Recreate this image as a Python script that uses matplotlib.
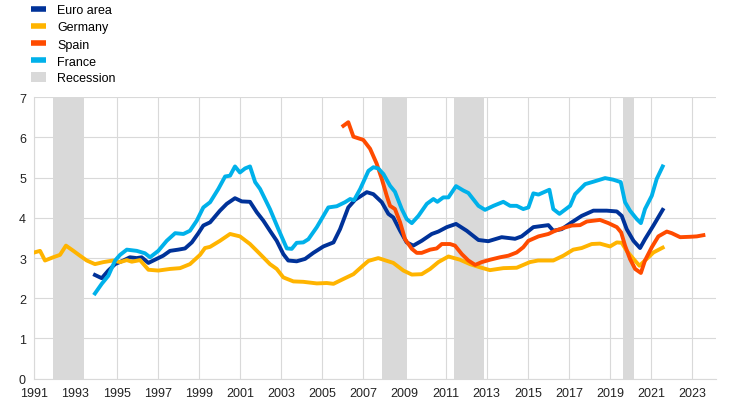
import matplotlib
matplotlib.use("Agg")
import matplotlib.pyplot as plt
from matplotlib.lines import Line2D
from matplotlib.patches import Patch

plt.rcParams['font.family'] = ['Liberation Sans', 'DejaVu Sans']

# Data
ea_t = [1993.95, 1994.28, 1994.6, 1994.93, 1995.33, 1995.65, 1995.98, 1996.22, 1996.55, 1996.95,
        1997.27, 1997.6, 1998.0, 1998.33, 1998.66, 1998.98, 1999.22, 1999.55, 2000.03, 2000.36,
        2000.76, 2001.09, 2001.49, 2001.82, 2002.14, 2002.46, 2002.79, 2003.11, 2003.35, 2003.76,
        2004.17, 2004.57, 2005.06, 2005.55, 2005.87, 2006.27, 2006.6, 2007.17, 2007.49, 2007.9,
        2008.22, 2008.46, 2008.79, 2009.11, 2009.43, 2009.84, 2010.33, 2010.65, 2011.06, 2011.51,
        2012.03, 2012.6, 2013.08, 2013.73, 2014.38, 2014.7, 2014.95, 2015.27, 2016.0, 2016.24,
        2016.65, 2017.14, 2017.62, 2018.19, 2018.84, 2019.33, 2019.57, 2019.81, 2020.14, 2020.46,
        2020.7, 2021.11, 2021.56]
ea_v = [2.58, 2.50, 2.69, 2.85, 2.94, 3.02, 3.00, 3.02, 2.88, 2.98,
        3.06, 3.18, 3.21, 3.24, 3.39, 3.62, 3.81, 3.89, 4.18, 4.35,
        4.49, 4.41, 4.40, 4.14, 3.93, 3.68, 3.43, 3.10, 2.94, 2.92,
        2.98, 3.13, 3.29, 3.39, 3.72, 4.26, 4.45, 4.64, 4.59, 4.39,
        4.10, 4.01, 3.68, 3.39, 3.31, 3.43, 3.60, 3.66, 3.77, 3.85,
        3.68, 3.45, 3.42, 3.52, 3.48, 3.54, 3.64, 3.77, 3.82, 3.68,
        3.72, 3.89, 4.05, 4.18, 4.18, 4.16, 4.05, 3.72, 3.43, 3.25,
        3.47, 3.81, 4.20]

de_t = [1991.0, 1991.28, 1991.52, 1991.92, 1992.25, 1992.54, 1992.9, 1993.22, 1993.55, 1993.95,
        1994.36, 1994.84, 1995.17, 1995.5, 1995.74, 1996.14, 1996.55, 1997.03, 1997.6, 1998.09,
        1998.57, 1999.06, 1999.3, 1999.55, 2000.03, 2000.52, 2001.0, 2001.49, 2001.98, 2002.46,
        2002.79, 2003.11, 2003.6, 2004.08, 2004.74, 2005.22, 2005.55, 2006.03, 2006.52, 2007.0,
        2007.25, 2007.73, 2008.46, 2008.95, 2009.36, 2009.84, 2010.25, 2010.65, 2011.14, 2011.7,
        2012.19, 2012.68, 2013.16, 2013.81, 2014.46, 2015.1, 2015.5, 2016.24, 2016.73, 2017.21,
        2017.62, 2018.11, 2018.51, 2019.0, 2019.33, 2019.57, 2019.81, 2020.14, 2020.43, 2020.7,
        2021.11, 2021.56]
de_v = [3.14, 3.18, 2.94, 3.02, 3.08, 3.31, 3.18, 3.06, 2.94, 2.85,
        2.90, 2.94, 2.90, 2.95, 2.91, 2.95, 2.71, 2.69, 2.73, 2.75,
        2.85, 3.08, 3.25, 3.28, 3.43, 3.60, 3.54, 3.35, 3.10, 2.85,
        2.73, 2.52, 2.42, 2.41, 2.37, 2.38, 2.36, 2.48, 2.60, 2.82,
        2.93, 3.00, 2.88, 2.69, 2.59, 2.60, 2.73, 2.90, 3.04, 2.96,
        2.85, 2.77, 2.70, 2.75, 2.76, 2.90, 2.94, 2.94, 3.06, 3.21,
        3.25, 3.35, 3.36, 3.29, 3.39, 3.38, 3.18, 2.98, 2.81, 2.94,
        3.14, 3.26]

es_t = [2006.03, 2006.27, 2006.52, 2007.0, 2007.33, 2007.65, 2007.9, 2008.14, 2008.3, 2008.54,
        2008.79, 2009.03, 2009.36, 2009.6, 2009.84, 2010.25, 2010.57, 2010.82, 2011.22, 2011.46,
        2011.79, 2012.11, 2012.44, 2012.76, 2013.17, 2013.65, 2014.06, 2014.46, 2014.78, 2015.03,
        2015.52, 2016.0, 2016.33, 2016.73, 2017.14, 2017.54, 2017.87, 2018.51, 2018.92, 2019.33,
        2019.54, 2019.73, 2019.97, 2020.22, 2020.5, 2020.7, 2021.03, 2021.35, 2021.76, 2022.0,
        2022.41, 2022.9, 2023.22, 2023.54]
es_v = [6.29, 6.38, 6.02, 5.94, 5.72, 5.35, 4.97, 4.55, 4.30, 4.22,
        3.89, 3.47, 3.23, 3.13, 3.13, 3.21, 3.24, 3.35, 3.35, 3.31,
        3.10, 2.94, 2.83, 2.90, 2.96, 3.02, 3.06, 3.14, 3.27, 3.43,
        3.54, 3.60, 3.68, 3.75, 3.81, 3.82, 3.91, 3.95, 3.87, 3.77,
        3.64, 3.31, 2.98, 2.73, 2.63, 2.94, 3.27, 3.54, 3.66, 3.62,
        3.52, 3.53, 3.54, 3.57]

fr_t = [1993.95, 1994.28, 1994.6, 1994.93, 1995.17, 1995.5, 1995.98, 1996.38, 1996.63, 1997.03,
        1997.44, 1997.85, 1998.25, 1998.57, 1998.9, 1999.22, 1999.55, 1999.95, 2000.28, 2000.52,
        2000.76, 2001.0, 2001.25, 2001.49, 2001.74, 2001.98, 2002.46, 2002.87, 2003.28, 2003.52,
        2003.76, 2004.08, 2004.33, 2004.74, 2005.3, 2005.71, 2006.11, 2006.36, 2006.55, 2006.85,
        2007.25, 2007.49, 2007.73, 2007.98, 2008.3, 2008.54, 2008.87, 2009.11, 2009.36, 2009.68,
        2010.09, 2010.41, 2010.6, 2010.89, 2011.14, 2011.51, 2011.87, 2012.11, 2012.6, 2012.92,
        2013.33, 2013.81, 2014.14, 2014.46, 2014.78, 2015.03, 2015.27, 2015.52, 2016.05, 2016.24,
        2016.54, 2017.06, 2017.3, 2017.79, 2018.19, 2018.76, 2019.16, 2019.52, 2019.73, 2019.97,
        2020.3, 2020.5, 2020.7, 2021.03, 2021.27, 2021.56]
fr_v = [2.12, 2.36, 2.56, 2.94, 3.08, 3.21, 3.18, 3.12, 3.02, 3.18,
        3.43, 3.62, 3.60, 3.68, 3.93, 4.26, 4.39, 4.72, 5.03, 5.05,
        5.28, 5.13, 5.23, 5.28, 4.89, 4.72, 4.22, 3.72, 3.24, 3.23,
        3.38, 3.39, 3.47, 3.77, 4.26, 4.29, 4.39, 4.47, 4.44, 4.72,
        5.17, 5.26, 5.23, 5.09, 4.80, 4.65, 4.22, 3.97, 3.87, 4.05,
        4.35, 4.47, 4.40, 4.51, 4.51, 4.79, 4.68, 4.62, 4.30, 4.20,
        4.30, 4.40, 4.30, 4.30, 4.22, 4.26, 4.61, 4.58, 4.70, 4.22,
        4.10, 4.30, 4.59, 4.84, 4.90, 4.99, 4.95, 4.89, 4.39, 4.18,
        3.97, 3.87, 4.22, 4.55, 4.97, 5.28]

recessions = [(1991.92, 1993.4), (2007.9, 2009.12), (2011.4, 2012.86), (2019.65, 2020.15)]

names = ['Euro area', 'Germany', 'Spain', 'France']
colors = ['#003299', '#ffb400', '#ff4b00', '#00b1ea']
rec_color = '#d9d9d9'

fig = plt.figure(figsize=(7.44, 4.06), dpi=100)
ax = fig.add_axes([0.0461, 0.0648, 0.9159, 0.6931])

for a, b in recessions:
    ax.axvspan(a, b, color=rec_color, lw=0, zorder=1)

series = [(ea_t, ea_v), (de_t, de_v), (es_t, es_v), (fr_t, fr_v)]
for (t, v), c in zip(series, colors):
    ax.plot(t, v, color=c, lw=2.8, solid_joinstyle='round', zorder=3)

ax.set_xlim(1991, 2024.14)
ax.set_ylim(0, 7)
ax.set_xticks(range(1991, 2024, 2))
ax.set_yticks(range(0, 8))
ax.grid(True, color='#d9d9d9', lw=0.8)
ax.set_axisbelow(True)
for s in ['top', 'right']:
    ax.spines[s].set_visible(False)
for s in ['left', 'bottom']:
    ax.spines[s].set_color('#d9d9d9')
    ax.spines[s].set_linewidth(0.8)
ax.tick_params(length=0, labelsize=9, colors='#222222', pad=6)

handles = [Line2D([], [], color=c, lw=4, solid_capstyle='butt') for c in colors]
handles.append(Patch(facecolor=rec_color, edgecolor='none'))
fig.legend(handles, names + ['Recession'], loc='upper left', bbox_to_anchor=(0.035, 1.0),
           frameon=False, fontsize=9, handlelength=1.2, handleheight=0.9,
           handletextpad=0.9, labelspacing=0.36, borderaxespad=0)

fig.savefig('out.png', dpi=100)
